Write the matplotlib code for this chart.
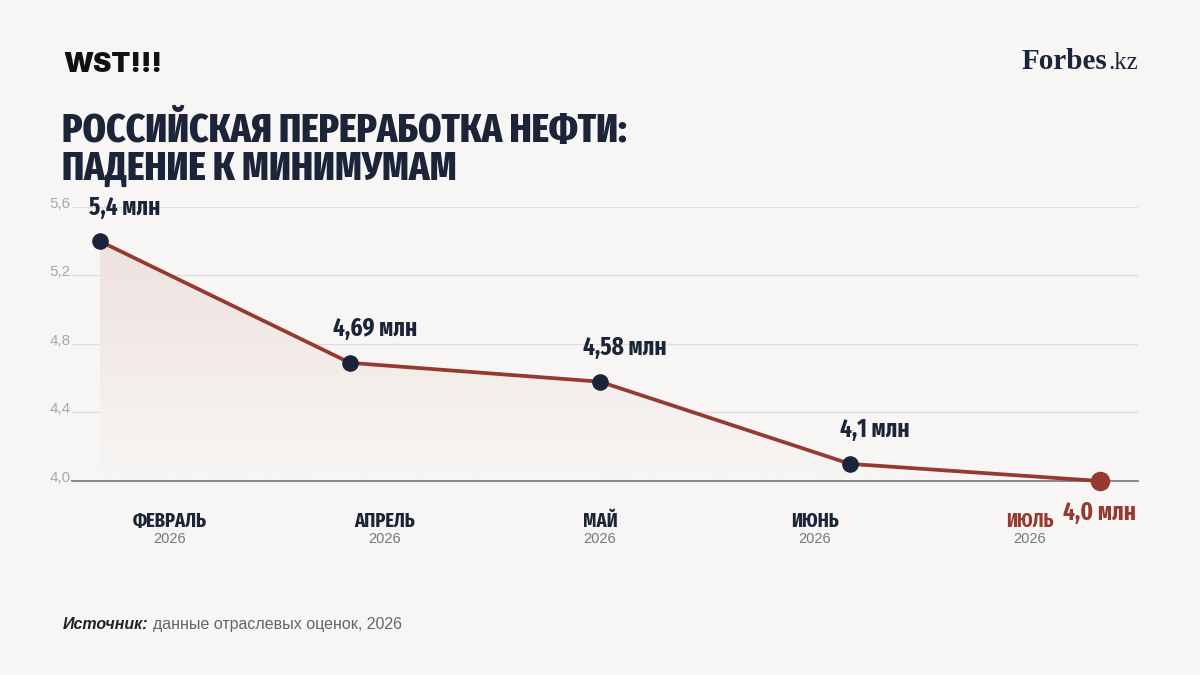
import numpy as np
import matplotlib
matplotlib.use("Agg")
import matplotlib.pyplot as plt
from matplotlib.patches import Polygon
from matplotlib.transforms import ScaledTranslation

# данные
months = ["ФЕВРАЛЬ", "АПРЕЛЬ", "МАЙ", "ИЮНЬ", "ИЮЛЬ"]
years = ["2026", "2026", "2026", "2026", "2026"]
values = [5.4, 4.69, 4.58, 4.1, 4.0]
value_labels = ["5,4 млн", "4,69 млн", "4,58 млн", "4,1 млн", "4,0 млн"]
yticks = [4.0, 4.4, 4.8, 5.2, 5.6]
title_lines = ["РОССИЙСКАЯ ПЕРЕРАБОТКА НЕФТИ:", "ПАДЕНИЕ К МИНИМУМАМ"]

# шрифты
COND = ["Fira Sans Extra Condensed", "DejaVu Sans"]
SANS = ["Liberation Sans", "DejaVu Sans"]
SERIF = ["Liberation Serif", "DejaVu Serif"]

BG = "#f7f6f4"
NAVY = "#1b2438"
RED = "#963a31"
GRAY = "#a8a8a8"

W, H = 1200, 675
fig = plt.figure(figsize=(12, 6.75), dpi=100, facecolor=BG)
ax = fig.add_axes([72 / W, 1 - 481 / H, (1138 - 72) / W, (481 - 207) / H])
ax.set_facecolor(BG)

x = np.arange(len(values))
ax.set_xlim(-0.112, 4.152)
ax.set_ylim(4.0, 5.6)

# сетка
for t in yticks[1:]:
    ax.axhline(t, color="#e0dedb", lw=1, zorder=1)
ax.axhline(4.0, color="#7c7f88", lw=1.3, zorder=2, clip_on=False)

# градиентная заливка под линией
poly = Polygon(np.column_stack([np.r_[x, x[::-1]], np.r_[values, [4.0] * len(x)]]),
               closed=True, facecolor="none", edgecolor="none")
ax.add_patch(poly)
grad = np.linspace(0.2, 0.0, 256).reshape(-1, 1)
cmap = matplotlib.colors.LinearSegmentedColormap.from_list("g", [BG, "#c98f86"])
im = ax.imshow(grad, extent=(x[0], x[-1], 4.0, max(values)), origin="upper",
               aspect="auto", cmap=cmap, vmin=0, vmax=1, zorder=1.5)
im.set_clip_path(poly)

# линия и точки
ax.plot(x, values, color=RED, lw=2.7, zorder=3, clip_on=False)
ax.scatter(x[:-1], values[:-1], s=120, color=NAVY, zorder=4, clip_on=False)
ax.scatter(x[-1:], values[-1:], s=170, color=RED, zorder=4, clip_on=False)

# подписи значений
for i, (v, lab) in enumerate(zip(values, value_labels)):
    if i == len(values) - 1:
        ax.annotate(lab, (x[i], v), xytext=(26, -28), textcoords="offset points",
                    ha="right", va="baseline", fontsize=18, fontweight="bold",
                    family=COND, color=RED)
    else:
        ax.annotate(lab, (x[i], v), xytext=(18, 19), textcoords="offset points",
                    ha="center", va="baseline", fontsize=18, fontweight="bold",
                    family=COND, color=NAVY)

# ось Y
ax.set_yticks(yticks)
ax.set_yticklabels([f"{t:.1f}".replace(".", ",") for t in yticks], va="center",
                   family=SANS)
ax.tick_params(axis="y", length=0, pad=1, labelsize=11, labelcolor=GRAY)
ax.set_xticks([])
for lbl in ax.get_yticklabels():
    lbl.set_transform(lbl.get_transform() + ScaledTranslation(0, 2.5 / 72, fig.dpi_scale_trans))
for s in ax.spines.values():
    s.set_visible(False)

# подписи месяцев
label_x = np.linspace(170, 1030, len(months)) / W
for i, (lx, m, yr) in enumerate(zip(label_x, months, years)):
    col = RED if i == len(months) - 1 else NAVY
    fig.text(lx, 1 - 527 / H, m, ha="center", va="baseline", fontsize=14.5,
             fontweight="bold", family=COND, color=col)
    fig.text(lx, 1 - 543 / H, yr, ha="center", va="baseline", fontsize=10.5,
             family=SANS, color="#777777")

# шапка
fig.text(63 / W, 1 - 72 / H, "WST!!!", ha="left", va="baseline", fontsize=20,
         fontweight=900, family=["Inter", "DejaVu Sans"], color="#111111")
fb = fig.text(1022 / W, 1 - 69 / H, "Forbes", ha="left", va="baseline", fontsize=21,
              fontweight="bold", family=SERIF, color=NAVY)
fig.canvas.draw()
bb = fb.get_window_extent()
fig.text((bb.x1 + 1) / W, 1 - 69 / H, ".kz", ha="left", va="baseline", fontsize=18,
         family=SERIF, color=NAVY)
for j, line in enumerate(title_lines):
    fig.text(62 / W, 1 - (142 + 38 * j) / H, line, ha="left", va="baseline",
             fontsize=29, fontweight=800, family=COND, color=NAVY)

# источник
t1 = fig.text(63 / W, 1 - 629 / H, "Источник:", ha="left", va="baseline",
              fontsize=11.5, fontweight="bold", style="italic", family=SANS, color="#222222")
fig.canvas.draw()
bb = t1.get_window_extent()
fig.text((bb.x1 + 4) / W, 1 - 629 / H, "данные отраслевых оценок, 2026",
         ha="left", va="baseline", fontsize=11.5, family=SANS, color="#666666")

fig.savefig("out.png", dpi=100, facecolor=BG)
